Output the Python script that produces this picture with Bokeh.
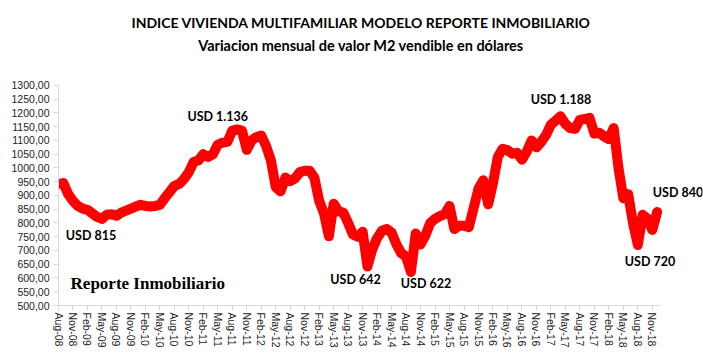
from bokeh.plotting import figure
from bokeh.models import Range1d, FixedTicker, Label
from bokeh.embed import file_html
from bokeh.resources import INLINE

# Monthly index value, Aug-08 .. Dec-18 (USD per m2)
values = [942, 945, 905, 880, 862, 852, 848, 835, 822, 815,
          830, 832, 826, 838, 845, 852, 860, 866, 862, 860,
          862, 866, 890, 912, 935, 942, 960, 985, 1022, 1028,
          1050, 1040, 1050, 1085, 1092, 1095, 1136, 1140, 1136, 1066,
          1100, 1112, 1118, 1080, 1028, 930, 915, 965, 952, 962,
          985, 990, 990, 965, 880, 835, 752, 870, 842, 838,
          800, 758, 750, 768, 642, 705, 745, 772, 778, 765,
          722, 690, 678, 622, 762, 722, 755, 800, 815, 825,
          832, 862, 778, 790, 790, 785, 855, 925, 955, 868,
          945, 1040, 1070, 1065, 1052, 1055, 1030, 1060, 1100, 1075,
          1095, 1120, 1158, 1172, 1188, 1160, 1145, 1142, 1175, 1178,
          1182, 1125, 1128, 1115, 1105, 1145, 1000, 890, 905, 800,
          720, 830, 815, 775, 840]
assert len(values) == 125
months = list(range(len(values)))

tick_labels = ["Aug-08", "Nov-08", "Feb-09", "May-09", "Aug-09", "Nov-09",
               "Feb-10", "May-10", "Aug-10", "Nov-10", "Feb-11", "May-11",
               "Aug-11", "Nov-11", "Feb-12", "May-12", "Aug-12", "Nov-12",
               "Feb-13", "May-13", "Aug-13", "Nov-13", "Feb-14", "May-14",
               "Aug-14", "Nov-14", "Feb-15", "May-15", "Aug-15", "Nov-15",
               "Feb-16", "May-16", "Aug-16", "Nov-16", "Feb-17", "May-17",
               "Aug-17", "Nov-17", "Feb-18", "May-18", "Aug-18", "Nov-18"]
y_ticks = list(range(500, 1301, 50))

annotations = ["USD 815", "USD 1.136", "USD 642", "USD 622", "USD 1.188", "USD 720", "USD 840"]
ann_x = [1.5, 26.7, 56.3, 70.9, 97.8, 117.3, 123.1]
ann_y = [754, 1187, 594, 580, 1249, 660, 911]

title_main = "INDICE VIVIENDA MULTIFAMILIAR MODELO REPORTE INMOBILIARIO"
title_sub = "Variacion mensual de valor M2 vendible en dólares"

# layout constants (axis extents; the frame is larger so texts are not clipped)
X_AXIS_END = 124.7
X_FRAME_END = 133.4
Y_MIN, Y_MAX, Y_FRAME_TOP = 500, 1300, 1609

p = figure(width=703, height=356, output_backend="svg", toolbar_location=None,
           x_range=Range1d(0, X_FRAME_END), y_range=Range1d(Y_MIN, Y_FRAME_TOP),
           min_border=0, min_border_left=58, min_border_right=1, min_border_top=0,
           min_border_bottom=51)
p.outline_line_color = None
p.xgrid.visible = False
p.ygrid.visible = False
p.background_fill_color = "white"
p.border_fill_color = "white"

p.line(months, values, line_color="#FF0000", line_width=10,
       line_join="round", line_cap="round")

# axes
p.xaxis.bounds = (0, X_AXIS_END)
p.xaxis.ticker = FixedTicker(ticks=[3 * i for i in range(len(tick_labels))])
p.xaxis.major_label_overrides = {3 * i: lab for i, lab in enumerate(tick_labels)}
p.xaxis.major_label_orientation = "vertical"
p.xaxis.major_label_text_font = "Liberation Sans"
p.xaxis.major_label_text_font_size = "10.5px"
p.xaxis.major_label_text_color = "#222222"
p.xaxis.major_label_standoff = 2
p.xaxis.axis_line_color = "#d9d9d9"
p.xaxis.major_tick_line_color = "#d9d9d9"
p.xaxis.major_tick_out = 5
p.xaxis.major_tick_in = 0
p.xaxis.minor_tick_line_color = None

p.yaxis.bounds = (Y_MIN, Y_MAX)
p.yaxis.ticker = FixedTicker(ticks=y_ticks)
p.yaxis.major_label_overrides = {v: f"{v},00" for v in y_ticks}
p.yaxis.major_label_text_font = "Liberation Sans"
p.yaxis.major_label_text_font_size = "10.5px"
p.yaxis.major_label_text_color = "#222222"
p.yaxis.major_label_standoff = 4
p.yaxis.axis_line_color = "#d9d9d9"
p.yaxis.major_tick_line_color = "#d9d9d9"
p.yaxis.major_tick_out = 5
p.yaxis.major_tick_in = 0
p.yaxis.minor_tick_line_color = None

# titles (as labels inside the extended frame)
p.add_layout(Label(x=62.7, y=1529, text=title_main, text_font="Lato",
                   text_font_size="14px", text_font_style="bold", text_color="black",
                   text_align="center", text_baseline="middle"))
p.add_layout(Label(x=62.7, y=1445, text=title_sub, text_font="Lato",
                   text_font_size="14.5px", text_font_style="bold", text_color="black",
                   text_align="center", text_baseline="middle"))

for t, x, y in zip(annotations, ann_x, ann_y):
    p.add_layout(Label(x=x, y=y, text=t, text_font="Lato", text_font_size="12.5px",
                       text_font_style="bold", text_color="black",
                       text_baseline="middle", text_align="left"))

p.add_layout(Label(x=2.5, y=580, text="Reporte Inmobiliario",
                   text_font="Liberation Serif", text_font_size="17px",
                   text_font_style="bold", text_color="black",
                   text_baseline="middle", text_align="left"))

open("out.html", "w").write(file_html(p, INLINE))
